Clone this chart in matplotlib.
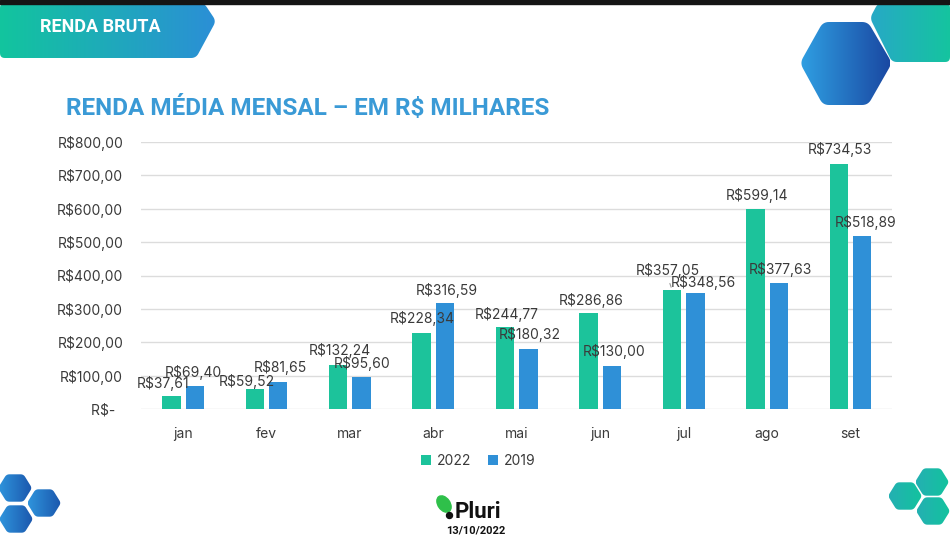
import numpy as np
import matplotlib
matplotlib.use("Agg")
import matplotlib.pyplot as plt
from matplotlib.patches import Polygon, Ellipse, Circle, Rectangle
from matplotlib.colors import LinearSegmentedColormap

# ---------------- data ----------------
months = ["jan", "fev", "mar", "abr", "mai", "jun", "jul", "ago", "set"]
renda_2022 = [37.61, 59.52, 132.24, 228.34, 244.77, 286.86, 357.05, 599.14, 734.53]
renda_2019 = [69.40, 81.65, 95.60, 316.59, 180.32, 130.00, 348.56, 377.63, 518.89]
series_names = ["2022", "2019"]
y_ticks = [0, 100, 200, 300, 400, 500, 600, 700, 800]
y_tick_labels = ["R$-  ", "R$100,00", "R$200,00", "R$300,00", "R$400,00",
                 "R$500,00", "R$600,00", "R$700,00", "R$800,00"]

# label offsets in pixels (dx, dy above bar top)
off_2022 = [(-8, 13), (-8, 8), (2, 14), (1, 14), (2, 13), (3, 13), (-4, 19), (2, 14), (1, 14)]
off_2019 = [(-1, 13), (2, 14), (1, 14), (2, 13), (1, 14), (2, 14), (8, 10), (2, 13), (3, 13)]

GREEN = "#1cc39b"
BLUE = "#2f90d7"
TXT = "#3a3a3a"

W, H = 950, 538
fig = plt.figure(figsize=(W / 100, H / 100), dpi=100)
fig.patch.set_facecolor("white")

# ---------------- decoration layer (pixel coordinates) ----------------
deco = fig.add_axes([0, 0, 1, 1], zorder=0)
deco.set_axis_off()


def rounded(pts, r, n=8):
    pts = np.asarray(pts, float)
    out = []
    N = len(pts)
    for i in range(N):
        p0, p1, p2 = pts[i - 1], pts[i], pts[(i + 1) % N]
        v1 = (p0 - p1) / np.linalg.norm(p0 - p1)
        v2 = (p2 - p1) / np.linalg.norm(p2 - p1)
        a = p1 + v1 * r
        b = p1 + v2 * r
        for t in np.linspace(0, 1, n):
            out.append((1 - t) ** 2 * a + 2 * (1 - t) * t * p1 + t ** 2 * b)
    return np.array(out)


def grad_poly(pts, c1, c2, z=1):
    pts = np.asarray(pts, float)
    poly = Polygon(pts, closed=True, facecolor="none", edgecolor="none")
    deco.add_patch(poly)
    cmap = LinearSegmentedColormap.from_list("g", [c1, c2])
    g = np.linspace(0, 1, 256).reshape(1, -1)
    im = deco.imshow(g, extent=(pts[:, 0].min(), pts[:, 0].max(),
                                pts[:, 1].max(), pts[:, 1].min()),
                     cmap=cmap, aspect="auto", zorder=z, interpolation="bicubic")
    im.set_clip_path(poly)


def hexagon(cx, cy, R):
    ang = np.deg2rad(np.arange(0, 360, 60))
    return np.column_stack([cx + R * np.cos(ang), cy + R * 0.93 * np.sin(ang)])


# top dark strip
deco.add_patch(Rectangle((0, 0), W, 3.5, color="#151515", zorder=5))

# top-left banner
banner = [(0, 3), (204, 3), (216, 21), (196, 58), (0, 58)]
grad_poly(rounded(banner, 5), "#12c59e", "#2b8fd6")
deco.text(40, 27, "RENDA BRUTA", color="white", fontsize=13, fontweight="bold",
          family="Roboto", va="center", ha="left", zorder=6)

# top-right shapes
teal = [(878, 3), (950, 3), (950, 62), (892, 62), (870, 18)]
grad_poly(rounded(teal, 5), "#27a9c6", "#15c49f", z=2)
bhex = [(800, 63), (823, 22), (868, 22), (892, 63), (868, 105), (823, 105)]
grad_poly(rounded(bhex, 6), "#2f9fe2", "#1a48a2", z=3)

# bottom-left hexes
for cx, cy in [(15, 488), (44, 503), (16, 519)]:
    grad_poly(rounded(hexagon(cx, cy, 17), 3), "#2f94dc", "#1b57ad", z=2)
# bottom-right hexes
for cx, cy in [(932, 482), (905, 496), (933, 511)]:
    grad_poly(rounded(hexagon(cx, cy, 17), 3), "#24b0b2", "#13c39e", z=2)

# logo
deco.add_patch(Ellipse((444, 504), 12, 18, angle=-35, color="#2fc04a", zorder=4))
deco.add_patch(Circle((449.5, 515.5), 3, color="#111111", zorder=4))
deco.text(455, 512, "Pluri", color="#111111", fontsize=16, fontweight="bold",
          family="Roboto", va="center", ha="left", zorder=4)
deco.text(476, 530, "13/10/2022", color="#111111", fontsize=8, fontweight="bold",
          family="Roboto", va="center", ha="center", zorder=4)

# title
deco.text(66, 108, "RENDA MÉDIA MENSAL – EM R$ MILHARES", color="#3a9ad6",
          fontsize=17.5, fontweight="bold", family="Roboto", va="center", ha="left", zorder=4)

deco.set_xlim(0, W)
deco.set_ylim(H, 0)

# ---------------- main chart ----------------
ax = fig.add_axes([141.3 / W, (H - 409) / H, 751 / W, 267 / H], zorder=2)
ax.patch.set_alpha(0)
x = np.arange(len(months))
bw = 0.22
off = 0.14
b1 = ax.bar(x - off, renda_2022, bw, color=GREEN, label=series_names[0], zorder=3)
b2 = ax.bar(x + off, renda_2019, bw, color=BLUE, label=series_names[1], zorder=3)

ax.set_xlim(-0.5, len(months) - 0.5)
ax.set_ylim(0, 800)
ax.set_yticks(y_ticks)
ax.set_yticklabels(y_tick_labels)
ax.set_xticks(x)
ax.set_xticklabels(months)
ax.tick_params(axis="both", length=0, colors=TXT, labelsize=10)
ax.tick_params(axis="y", pad=13)
ax.tick_params(axis="x", pad=13)
for lab in ax.get_xticklabels() + ax.get_yticklabels():
    lab.set_family("Inter")
    lab.set_color(TXT)
ax.grid(axis="y", color="#dcdcdc", linewidth=1, zorder=0)
for s in ax.spines.values():
    s.set_visible(False)


def fmt(v):
    return "R$" + f"{v:.2f}".replace(".", ",")


for vals, offs, xo in [(renda_2022, off_2022, -off), (renda_2019, off_2019, off)]:
    for i, v in enumerate(vals):
        dx, dy = offs[i]
        ax.annotate(fmt(v), (i + xo, v), xytext=(dx, dy), textcoords="offset pixels",
                    ha="center", va="center", fontsize=10, color=TXT, family="Inter",
                    zorder=5)

# leader line for jul 2022
ax.annotate("", (6 - off, renda_2022[6]), xytext=(-3, 9), textcoords="offset pixels",
            arrowprops=dict(arrowstyle="-", color="#9a9a9a", lw=0.8))

leg = fig.legend(handles=[b1, b2], labels=series_names, loc="center",
                 bbox_to_anchor=(478 / W, 1 - 461 / H), ncol=2, frameon=False,
                 handlelength=0.75, handleheight=0.75, handletextpad=0.4,
                 columnspacing=1.2, prop={"family": "Inter", "size": 10})
for t in leg.get_texts():
    t.set_color(TXT)

fig.savefig("out.png", dpi=100)
